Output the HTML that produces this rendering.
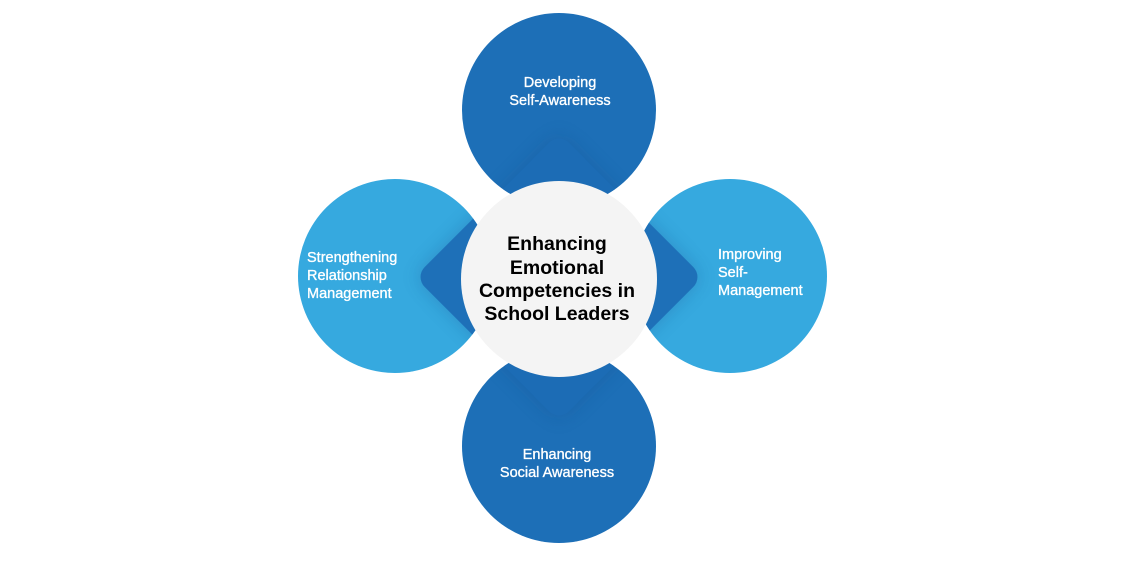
<!DOCTYPE html>
<html><head><meta charset="utf-8"><style>
html,body{margin:0;padding:0;background:#fff;}
svg{display:block}
text{font-family:"Liberation Sans",Arial,sans-serif;}
</style></head><body>
<svg width="1125" height="570" viewBox="0 0 1125 570" xmlns="http://www.w3.org/2000/svg">
<defs>
<clipPath id="ct"><circle cx="559" cy="110" r="97"/></clipPath>
<clipPath id="cb"><circle cx="559" cy="446" r="97"/></clipPath>
<clipPath id="cl"><circle cx="395" cy="276" r="97"/></clipPath>
<clipPath id="cr"><circle cx="730" cy="276" r="97"/></clipPath>
<filter id="sh" x="-30%" y="-30%" width="160%" height="160%"><feGaussianBlur stdDeviation="9"/></filter>
</defs>
<circle cx="559" cy="110" r="97" fill="#1d6fb7"/>
<circle cx="559" cy="446" r="97" fill="#1d6fb7"/>
<circle cx="395" cy="276" r="97" fill="#36a9df"/>
<circle cx="730" cy="276" r="97" fill="#36a9df"/>
<g clip-path="url(#ct)"><rect x="457" y="175" width="204" height="204" rx="14" transform="rotate(45 559 277)" fill="#13538f" opacity="0.35" filter="url(#sh)"/><rect x="457" y="175" width="204" height="204" rx="14" transform="rotate(45 559 277)" fill="#1c6cb5"/></g>
<g clip-path="url(#cb)"><rect x="457" y="175" width="204" height="204" rx="14" transform="rotate(45 559 277)" fill="#13538f" opacity="0.35" filter="url(#sh)"/><rect x="457" y="175" width="204" height="204" rx="14" transform="rotate(45 559 277)" fill="#1c6cb5"/></g>
<g clip-path="url(#cl)"><rect x="457" y="175" width="204" height="204" rx="14" transform="rotate(45 559 277)" fill="#13538f" opacity="0.3" filter="url(#sh)"/><rect x="457" y="175" width="204" height="204" rx="14" transform="rotate(45 559 277)" fill="#1e70b8"/></g>
<g clip-path="url(#cr)"><rect x="457" y="175" width="204" height="204" rx="14" transform="rotate(45 559 277)" fill="#13538f" opacity="0.3" filter="url(#sh)"/><rect x="457" y="175" width="204" height="204" rx="14" transform="rotate(45 559 277)" fill="#1e70b8"/></g>
<circle cx="559" cy="279" r="98" fill="#f4f4f4"/>
<g fill="#fff" stroke="#fff" stroke-width="0.35" font-size="14.5" text-anchor="middle">
<text x="560" y="87">Developing</text>
<text x="560" y="105">Self-Awareness</text>
<text x="557" y="459">Enhancing</text>
<text x="557" y="477">Social Awareness</text>
</g>
<g fill="#fff" stroke="#fff" stroke-width="0.35" font-size="14.5">
<text x="307" y="262">Strengthening</text>
<text x="307" y="280">Relationship</text>
<text x="307" y="298">Management</text>
<text x="718" y="259">Improving</text>
<text x="718" y="277">Self-</text>
<text x="718" y="295">Management</text>
</g>
<g fill="#000" font-size="19.5" font-weight="bold" text-anchor="middle">
<text x="557" y="250">Enhancing</text>
<text x="557" y="274">Emotional</text>
<text x="557" y="297">Competencies in</text>
<text x="557" y="320">School Leaders</text>
</g>
</svg>
</body></html>
